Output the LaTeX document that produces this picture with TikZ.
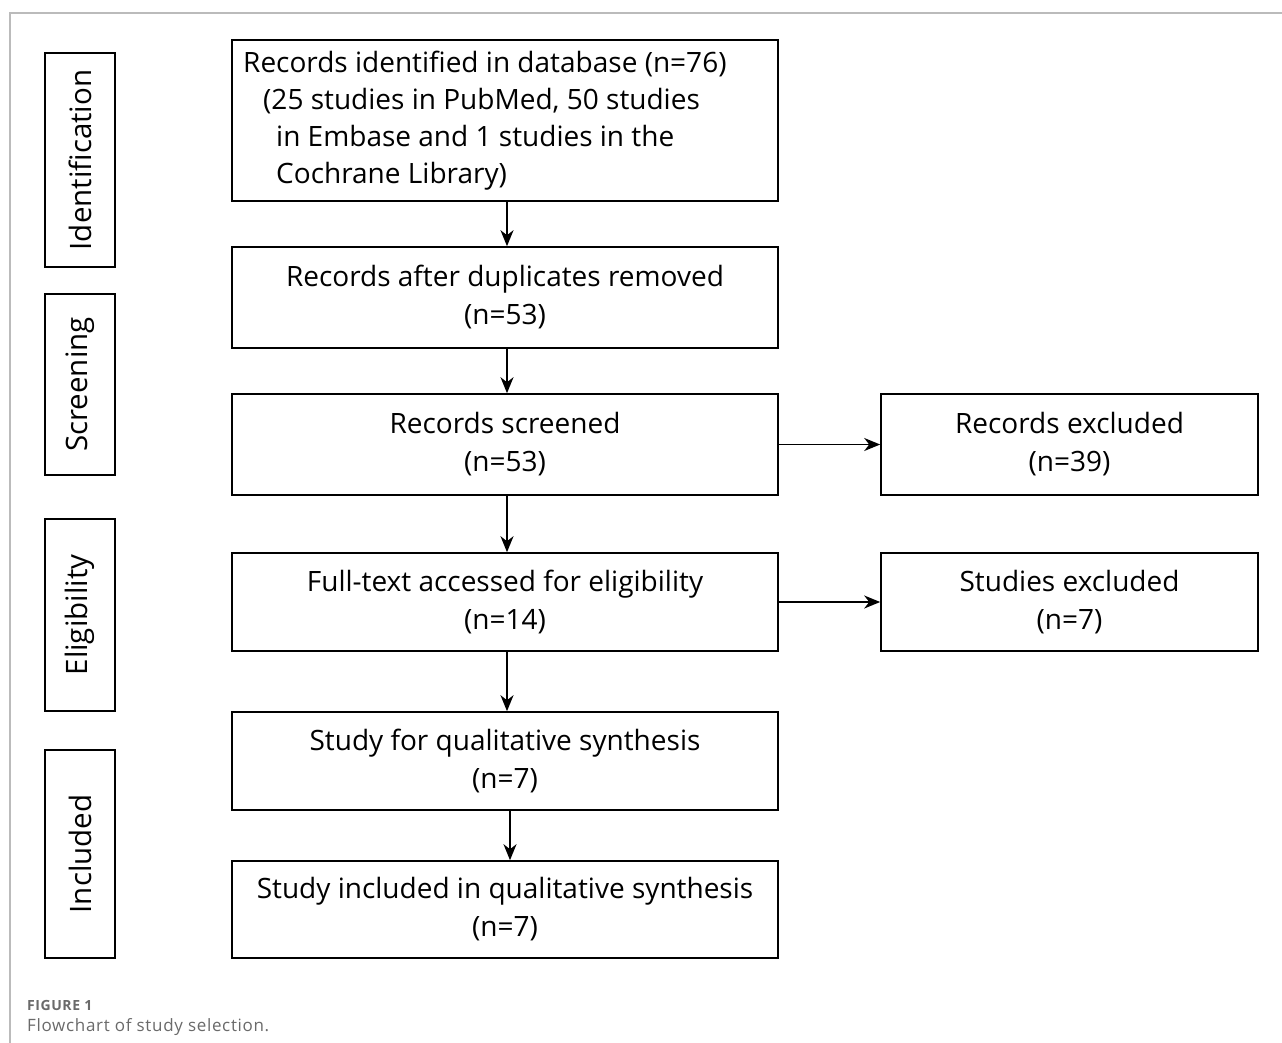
\documentclass[tikz,border=0pt]{standalone}
\usepackage{fontspec}
\setmainfont{Open Sans}
\newfontfamily\capfont[LetterSpace=4]{Open Sans}
\usetikzlibrary{arrows.meta}
\definecolor{framegray}{HTML}{BBBBBB}
\definecolor{capgray}{HTML}{6A6A6A}
\tikzset{
  box/.style={draw=black, line width=1.6pt, inner sep=0pt, align=center, font=\fontsize{28}{38}\selectfont},
  stage/.style={draw=black, line width=1.6pt, inner sep=0pt, minimum width=70pt, font=\fontsize{29.5}{32}\selectfont},
  arr/.style={line width=1.6pt, -{Stealth[length=16pt,width=13pt,inset=5pt]}}
}
\begin{document}
\begin{tikzpicture}[x=1pt,y=-1pt]
\useasboundingbox (0,0) rectangle (1282,1043);
\fill[white] (0,0) rectangle (1282,1043);
\draw[framegray, line width=2pt] (10,1043) -- (10,13) -- (1282,13);
% stage boxes
\node[stage, minimum height=214pt] (s1) at (80,160) {\rotatebox{90}{Identification}};
\node[stage, minimum height=181pt] (s2) at (80,384.5) {\rotatebox{90}{Screening}};
\node[stage, minimum height=192pt] (s3) at (80,615) {\rotatebox{90}{Eligibility}};
\node[stage, minimum height=208pt] (s4) at (80,854) {\rotatebox{90}{Included}};
% main boxes
\node[box, minimum width=546pt, minimum height=161pt] (b1) at (505,120.5) {};
\node[align=left, inner sep=0pt, font=\fontsize{28}{37}\selectfont, anchor=north west] (t1) at (243,51)
 {Records identified in database (n=76)\\
  \hspace*{20pt}(25 studies in PubMed, 50 studies\\
  \hspace*{33pt}in Embase and 1 studies in the\\
  \hspace*{33pt}Cochrane Library)};
\node[box, minimum width=546pt, minimum height=101pt] (b2) at (505,297.5) {Records after duplicates removed\\(n=53)};
\node[box, minimum width=546pt, minimum height=101pt] (b3) at (505,444.5) {Records screened\\(n=53)};
\node[box, minimum width=546pt, minimum height=98pt] (b4) at (505,602) {Full-text accessed for eligibility\\(n=14)};
\node[box, minimum width=546pt, minimum height=98pt] (b5) at (505,761) {Study for qualitative synthesis\\(n=7)};
\node[box, minimum width=546pt, minimum height=97pt] (b6) at (505,909.5) {Study included in qualitative synthesis\\(n=7)};
% right boxes
\node[box, minimum width=377pt, minimum height=101pt] (r1) at (1069.5,444.5) {Records excluded\\(n=39)};
\node[box, minimum width=377pt, minimum height=98pt] (r2) at (1069.5,602) {Studies excluded\\(n=7)};
% arrows
\draw[arr] (b1.south -| 507,0) -- (b2.north -| 507,0);
\draw[arr] (b2.south -| 507,0) -- (b3.north -| 507,0);
\draw[arr] (b3.south -| 507,0) -- (b4.north -| 507,0);
\draw[arr] (b4.south -| 507,0) -- (b5.north -| 507,0);
\draw[arr] (b5.south -| 510,0) -- (b6.north -| 510,0);
\draw[arr] (b3.east) -- (r1.west);
\draw[arr] (b4.east) -- (r2.west);
% caption
\node[anchor=base west, inner sep=0pt, text=capgray, font=\capfont\bfseries\fontsize{14}{17}\selectfont] (c1) at (27,1010) {FIGURE 1};
\node[anchor=base west, inner sep=0pt, text=capgray, font=\capfont\fontsize{17}{20}\selectfont] (c2) at (27,1031) {Flowchart of study selection.};
\end{tikzpicture}
\end{document}
